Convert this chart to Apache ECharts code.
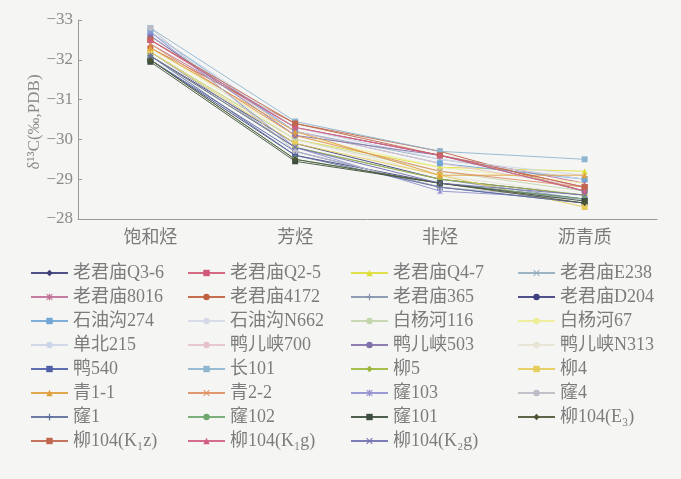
<!DOCTYPE html>
<html>
<head>
<meta charset="utf-8">
<script src="https://cdn.jsdelivr.net/npm/echarts@6/dist/echarts.min.js"></script>
<style>
  html, body { margin: 0; padding: 0; background: #f5f5f3; }
  #chart { width: 681px; height: 479px; }
</style>
</head>
<body>
<div id="chart"></div>
<script>
// Fractions of the oil (x axis) and δ13C values per sample (y axis, ‰ PDB)
const fractions = ['饱和烃', '芳烃', '非烃', '沥青质'];
const yTicks = [-33, -32, -31, -30, -29, -28];
const yTitle = 'δ¹³C(‰,PDB)';

const sampleNames = [
  '老君庙Q3-6', '老君庙Q2-5', '老君庙Q4-7', '老君庙E238',
  '老君庙8016', '老君庙4172', '老君庙365', '老君庙D204',
  '石油沟274', '石油沟N662', '白杨河116', '白杨河67',
  '单北215', '鸭儿峡700', '鸭儿峡503', '鸭儿峡N313',
  '鸭540', '长101', '柳5', '柳4',
  '青1-1', '青2-2', '窿103', '窿4',
  '窿1', '窿102', '窿101', '柳104(E₃)',
  '柳104(K₁z)', '柳104(K₁g)', '柳104(K₂g)'
];

const q36 = [-32.1, -29.9, -29.0, -28.6];
const q25 = [-32.5, -30.3, -29.6, -28.8];
const q47 = [-32.2, -30.0, -29.3, -29.2];
const e238 = [-32.6, -30.2, -29.5, -29.0];
const lj8016 = [-32.4, -30.3, -29.6, -28.9];
const lj4172 = [-32.3, -30.4, -29.7, -28.7];
const lj365 = [-32.2, -29.8, -29.0, -28.5];
const d204 = [-32.0, -29.6, -28.9, -28.5];
const syg274 = [-32.7, -30.2, -29.4, -29.0];
const sygN662 = [-32.6, -30.3, -29.5, -29.0];
const byh116 = [-32.2, -30.0, -29.2, -28.7];
const byh67 = [-32.3, -30.1, -29.3, -28.9];
const db215 = [-32.7, -30.3, -29.5, -29.1];
const yex700 = [-32.5, -30.2, -29.4, -28.8];
const yex503 = [-32.6, -30.1, -29.6, -28.7];
const yexN313 = [-32.4, -30.0, -29.1, -28.6];
const ya540 = [-32.0, -29.7, -28.8, -28.4];
const chang101 = [-32.8, -30.45, -29.7, -29.5];
const liu5 = [-32.1, -29.8, -29.0, -28.6];
const liu4 = [-32.2, -29.9, -29.1, -28.3];
const qing11 = [-32.3, -30.2, -29.1, -29.1];
const qing22 = [-32.4, -30.1, -29.2, -28.8];
const long103 = [-32.7, -29.8, -28.7, -28.5];
const long4 = [-32.8, -29.7, -28.8, -28.5];
const long1 = [-32.1, -29.6, -28.8, -28.4];
const long102 = [-32.0, -29.5, -28.9, -28.5];
const long101 = [-31.95, -29.45, -28.9, -28.45];
const liu104E3 = [-32.0, -29.5, -28.9, -28.4];
const liu104K1z = [-32.5, -30.4, -29.6, -28.8];
const liu104K1g = [-32.5, -30.3, -29.6, -28.7];
const liu104K2g = [-32.1, -29.8, -28.9, -28.6];

const sampleValues = [
  q36, q25, q47, e238, lj8016, lj4172, lj365, d204,
  syg274, sygN662, byh116, byh67, db215, yex700, yex503, yexN313,
  ya540, chang101, liu5, liu4, qing11, qing22, long103, long4,
  long1, long102, long101, liu104E3, liu104K1z, liu104K1g, liu104K2g
];

// Marker shapes
const xMark = 'path://M1,0L5,4L9,0L10,1L6,5L10,9L9,10L5,6L1,10L0,9L4,5L0,1Z';
const plusMark = 'path://M4,0H6V4H10V6H6V10H4V6H0V4H4Z';
const starMark = 'path://M1,0L5,4L9,0L10,1L6,5L10,9L9,10L5,6L1,10L0,9L4,5L0,1ZM4,0H6V10H4Z';

const styles = [
  ['#3d3f78', 'diamond'], ['#d05a78', 'rect'], ['#dede3a', 'triangle'], ['#93adbf', xMark],
  ['#c06f95', starMark], ['#c0603e', 'circle'], ['#8494ae', plusMark], ['#3e3f80', 'circle'],
  ['#72a6d6', 'rect'], ['#d6dae8', 'none'], ['#c4d6ae', 'circle'], ['#eeee96', 'none'],
  ['#cdd6e8', 'none'], ['#e6c2cc', 'none'], ['#8270aa', 'circle'], ['#e6e4d4', 'none'],
  ['#4f5fa8', 'rect'], ['#8fb6d0', 'rect'], ['#9cb83c', 'diamond'], ['#e6cc5a', 'rect'],
  ['#e0a03e', 'triangle'], ['#e08e5e', xMark], ['#9090d2', starMark], ['#bcbcc6', 'circle'],
  ['#5f6f9f', plusMark], ['#6ea86e', 'circle'], ['#3e4e3e', 'rect'], ['#4e5636', 'diamond'],
  ['#c0664c', 'rect'], ['#d05e80', 'triangle'], ['#6f6fb0', xMark]
];

const series = sampleNames.map((name, i) => ({
  name: name,
  type: 'line',
  data: sampleValues[i],
  symbol: styles[i][1],
  symbolSize: 6,
  showSymbol: true,
  lineStyle: { width: 1, color: styles[i][0], opacity: 0.9 },
  itemStyle: { color: styles[i][0] },
  emphasis: { disabled: true },
  animation: false
}));

const serifFont = '"Liberation Serif", "Noto Sans CJK SC", serif';
const colLeft = [25, 182, 345, 512];
const legends = colLeft.map((left, c) => ({
  orient: 'vertical',
  left: left,
  top: 259,
  itemWidth: 37,
  itemHeight: 8,
  itemGap: 6,
  selectedMode: false,
  data: sampleNames.filter((_, i) => i % 4 === c),
  textStyle: { fontFamily: serifFont, fontSize: 18, lineHeight: 18, color: '#7c7c7c' }
}));

const chart = echarts.init(document.getElementById('chart'));
chart.setOption({
  backgroundColor: '#f5f5f3',
  color: styles.map(s => s[0]),
  grid: { left: 78, right: 24, top: 20, bottom: 260 },
  xAxis: {
    type: 'category',
    data: fractions,
    boundaryGap: true,
    axisLine: { lineStyle: { color: '#9a9a9a', width: 1 } },
    axisTick: { inside: true, length: 5, lineStyle: { color: '#9a9a9a' } },
    axisLabel: { fontFamily: serifFont, fontSize: 18, color: '#7a7a7a', margin: 10 }
  },
  yAxis: {
    type: 'value',
    min: yTicks[0],
    max: yTicks[yTicks.length - 1],
    interval: 1,
    inverse: true,
    splitLine: { show: false },
    axisLine: { show: true, lineStyle: { color: '#9a9a9a', width: 1 } },
    axisTick: { show: true, inside: true, length: 4, lineStyle: { color: '#9a9a9a' } },
    axisLabel: {
      fontFamily: serifFont, fontSize: 17, color: '#8a8a8a', margin: 5,
      formatter: v => String(v).replace('-', '−')
    }
  },
  graphic: [{
    type: 'text',
    x: 35,
    y: 122,
    rotation: Math.PI / 2,
    style: {
      text: yTitle,
      font: '17px ' + serifFont,
      fill: '#8a8a8a',
      align: 'center',
      verticalAlign: 'middle'
    }
  }],
  legend: legends,
  series: series
});
</script>
</body>
</html>
